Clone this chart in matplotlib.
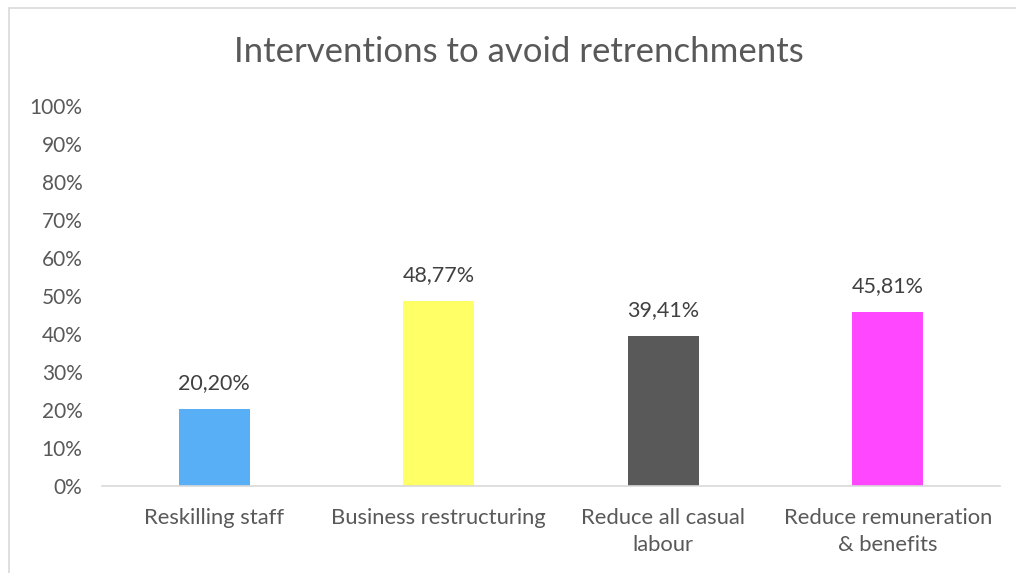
import matplotlib.pyplot as plt
from matplotlib.patches import Rectangle
from matplotlib.ticker import FuncFormatter

categories = ['Reskilling staff', 'Business restructuring',
              'Reduce all casual\nlabour', 'Reduce remuneration\n& benefits']
values = [20.20, 48.77, 39.41, 45.81]
colors = ['#58AFF6', '#FFFF66', '#595959', '#FF47FF']

plt.rcParams['font.family'] = ['Lato', 'DejaVu Sans']
text_color = '#595959'

fig = plt.figure(figsize=(10.16, 5.73), dpi=100)
ax = fig.add_axes([102 / 1016, 1 - 486 / 573, 898 / 1016, 380 / 573])

# light chart-area frame
fig.patches.append(Rectangle((9 / 1016, -0.1), 1.2, 1 - 8 / 573 + 0.1,
                             transform=fig.transFigure, fill=False,
                             edgecolor='#D9D9D9', linewidth=1.2))

x = range(len(categories))
bars = ax.bar(x, values, width=0.316, color=colors)

for xi, v in zip(x, values):
    ax.text(xi, v + 6.8, f'{v:.2f}%'.replace('.', ','), ha='center', va='center',
            fontsize=15.5, color='#404040')

ax.set_xlim(-0.5, len(categories) - 0.5)
ax.set_ylim(0, 100)
ax.set_yticks(range(0, 101, 10))
ax.yaxis.set_major_formatter(FuncFormatter(lambda v, p: f'{int(v)}%'))
ax.set_xticks(list(x))
ax.set_xticklabels(categories, linespacing=1.45, fontsize=15.8)

for side in ['top', 'right', 'left']:
    ax.spines[side].set_visible(False)
ax.spines['bottom'].set_color('#D9D9D9')
ax.spines['bottom'].set_linewidth(1.2)
ax.tick_params(axis='both', length=0, labelcolor=text_color)
ax.tick_params(axis='y', pad=14, labelsize=15)
ax.tick_params(axis='x', pad=16)

fig.text(519 / 1016, 1 - 52 / 573, 'Interventions to avoid retrenchments',
         ha='center', va='center', fontsize=25, color=text_color)

fig.savefig('out.png', dpi=100)
